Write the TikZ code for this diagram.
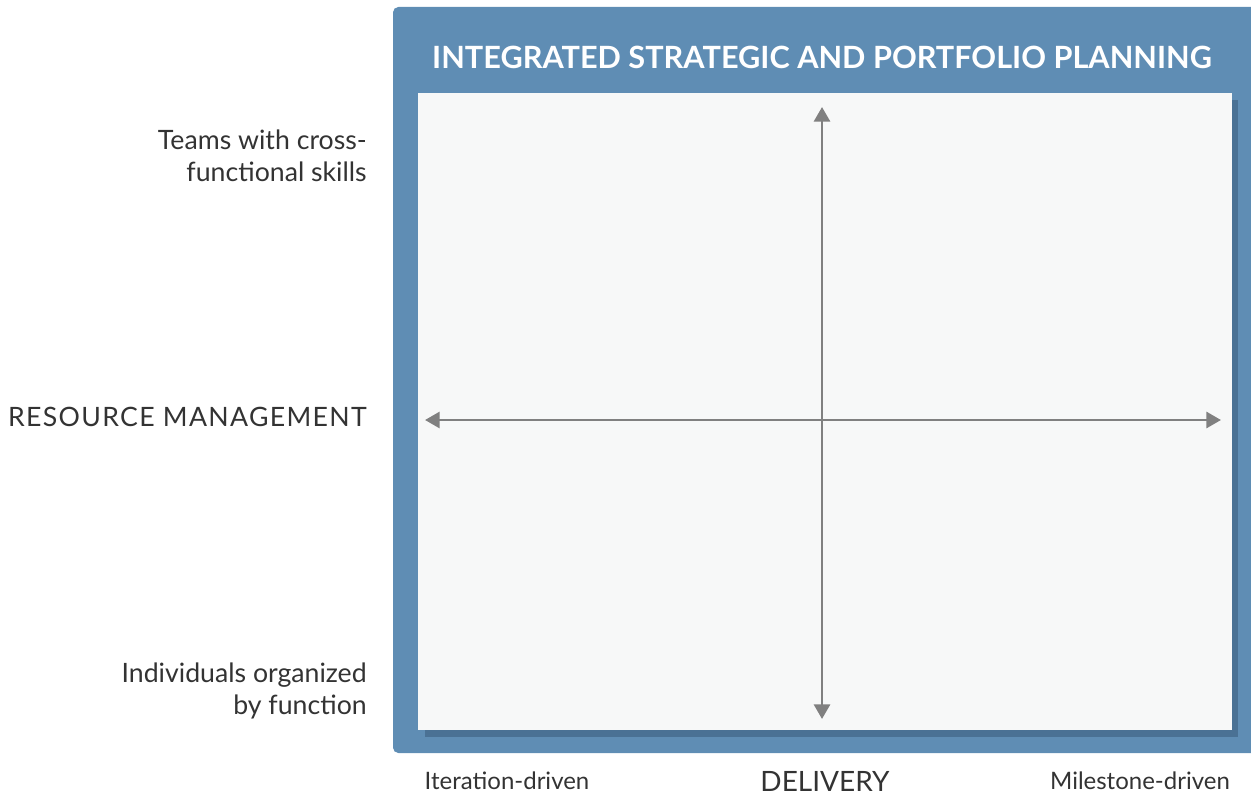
\documentclass[tikz,border=0pt]{standalone}
\usepackage{fontspec}
\setmainfont{Lato}
\usetikzlibrary{arrows.meta}
\definecolor{frameblue}{HTML}{5F8DB4}
\definecolor{shadowblue}{HTML}{4A7194}
\definecolor{panel}{HTML}{F7F8F8}
\definecolor{axisgray}{HTML}{808080}
\definecolor{txt}{HTML}{333333}
\tikzset{
  axis/.style={draw=axisgray, line width=2.2pt, {Triangle[length=11pt,width=12pt]}-{Triangle[length=11pt,width=12pt]}},
  lbl/.style={text=txt, font=\fontsize{18}{24}\selectfont, inner sep=0pt},
  sidelbl/.style={text=txt, font=\fontsize{20}{24}\selectfont, inner sep=0pt, anchor=east, align=right},
}
\begin{document}
\begin{tikzpicture}[x=0.75pt,y=-0.75pt]
\useasboundingbox (0,0) rectangle (1251,795);
% frame
\fill[frameblue, rounded corners=4pt] (393,7) rectangle (1258,753);
\fill[shadowblue] (425,100) rectangle (1238,737);
\fill[panel] (418,93) rectangle (1232,730);
\node[text=white, font=\bfseries\fontsize{23}{28}\selectfont, inner sep=0pt] (title) at (822,57) {INTEGRATED STRATEGIC AND PORTFOLIO PLANNING};
% axes
\coordinate (top) at (822,107);
\coordinate (bot) at (822,719);
\coordinate (lft) at (425,420);
\coordinate (rgt) at (1221,420);
\draw[axis] (bot) -- (top);
\draw[axis] (lft) -- (rgt);
% left labels
\node[sidelbl] (hi) at (367,156) {Teams with cross-\\functional skills};
\node[sidelbl, font=\fontsize{20}{24}\selectfont\addfontfeature{LetterSpace=5}] (rm) at (367,417) {RESOURCE MANAGEMENT};
\node[sidelbl] (lo) at (367,691) {Individuals organized\\by function};
% bottom labels
\node[lbl] (it) at (507,781) {Iteration-driven};
\node[lbl, font=\fontsize{21}{24}\selectfont] (del) at (825,781) {DELIVERY};
\node[lbl] (ms) at (1140,781) {Milestone-driven};
\end{tikzpicture}
\end{document}
